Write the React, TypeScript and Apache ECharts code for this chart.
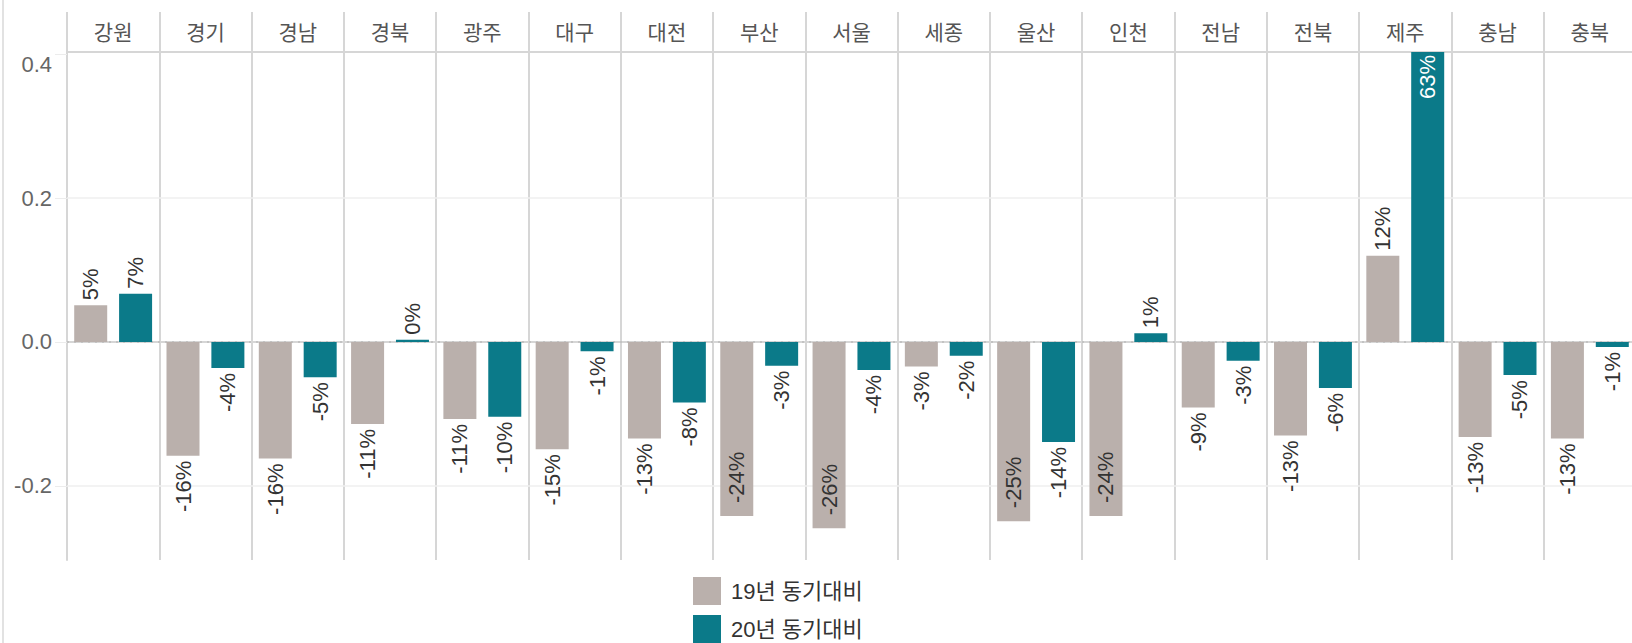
import React, { useEffect, useRef } from "react";
import * as echarts from "echarts";

const regions = ["강원", "경기", "경남", "경북", "광주", "대구", "대전", "부산", "서울", "세종", "울산", "인천", "전남", "전북", "제주", "충남", "충북"];
const seriesNames = ["19년 동기대비", "20년 동기대비"];
const yoy19 = [0.051, -0.158, -0.162, -0.114, -0.107, -0.149, -0.134, -0.242, -0.259, -0.034, -0.249, -0.242, -0.091, -0.13, 0.12, -0.132, -0.134];
const yoy20 = [0.067, -0.036, -0.049, 0.003, -0.104, -0.013, -0.084, -0.033, -0.039, -0.019, -0.139, 0.012, -0.026, -0.064, 0.63, -0.046, -0.007];
const yTicks = [-0.2, 0, 0.2, 0.4];
const gridLines = [-0.2, 0.2];
const yMin = -0.303;
const yMax = 0.403;

const FONT = "Arial, 'Liberation Sans', 'Noto Sans CJK KR', sans-serif";
const FRAME = "#d6d6d6";
const GRAY = "#bab0ac";
const TEAL = "#0b7a89";

function toItems(values: number[]) {
  return values.map((v) => {
    if (v > yMax) {
      return {
        value: v,
        label: { position: "insideTop", align: "right", verticalAlign: "middle", color: "#ffffff", distance: 3 },
      };
    }
    if (v < -0.2) {
      return {
        value: v,
        label: { position: "insideBottom", align: "left", verticalAlign: "middle", distance: 13 },
      };
    }
    return {
      value: v,
      label: {
        position: v >= 0 ? "top" : "bottom",
        align: v >= 0 ? "left" : "right",
        verticalAlign: "middle",
      },
    };
  });
}

export default function App() {
  const ref = useRef<HTMLDivElement>(null);
  useEffect(() => {
    if (!ref.current) return;
    const chart = echarts.init(ref.current, undefined, { renderer: "svg" });
    const labelBase = {
      show: true,
      rotate: 90,
      fontSize: 22,
      fontFamily: FONT,
      color: "#333333",
      distance: 5,
      formatter: (p: any) => Math.round(p.value * 100) + "%",
    };
    chart.setOption({
      animation: false,
      backgroundColor: "#ffffff",
      textStyle: { fontFamily: FONT },
      grid: { left: 67, right: 4, top: 52, bottom: 140 },
      legend: {
        orient: "vertical",
        left: 688,
        top: 572,
        height: 120,
        itemWidth: 28,
        itemHeight: 28,
        itemGap: 10,
        icon: "rect",
        data: seriesNames,
        textStyle: { fontSize: 22, color: "#333333", fontFamily: FONT, padding: [0, 0, 0, 5] },
      },
      graphic: [
        {
          type: "line",
          shape: { x1: 3, y1: 0, x2: 3, y2: 700 },
          style: { stroke: "#e2e2e2", lineWidth: 2 },
          silent: true,
        },
      ],
      xAxis: [
        {
          type: "category",
          data: regions,
          position: "bottom",
          axisLine: { show: true, lineStyle: { color: FRAME, width: 2 } },
          axisTick: { show: false },
          axisLabel: { show: false },
          splitLine: { show: true, lineStyle: { color: FRAME, width: 2 } },
        },
        {
          type: "category",
          data: regions,
          position: "top",
          axisLine: { show: true, lineStyle: { color: FRAME, width: 2 } },
          axisTick: { show: true, length: 40, lineStyle: { color: FRAME, width: 2 } },
          axisLabel: { fontSize: 21, color: "#555555", margin: 9, fontFamily: FONT },
          splitLine: { show: false },
        },
      ],
      yAxis: {
        type: "value",
        min: yMin,
        max: yMax,
        axisLine: { show: true, lineStyle: { color: FRAME, width: 2 } },
        axisTick: { show: true, customValues: yTicks, length: 12, lineStyle: { color: "#ececec", width: 1 } },
        axisLabel: {
          customValues: yTicks,
          fontSize: 22,
          color: "#666666",
          margin: 15,
          fontFamily: FONT,
          formatter: (v: number) => (v >= 0.39 ? "{t|" + v.toFixed(1) + "}" : "{n|" + v.toFixed(1) + "}"),
          rich: {
            t: { fontSize: 22, color: "#666666", fontFamily: FONT, padding: [20, 0, 0, 0] },
            n: { fontSize: 22, color: "#666666", fontFamily: FONT },
          },
        },
        splitLine: { show: false },
      },
      series: [
        {
          name: seriesNames[0],
          type: "bar",
          xAxisIndex: 0,
          data: toItems(yoy19),
          barWidth: 33,
          barGap: "36%",
          itemStyle: { color: GRAY },
          label: labelBase,
          markLine: {
            silent: true,
            symbol: "none",
            z: 1,
            label: { show: false },
            data: [
              ...gridLines.map((g) => ({ yAxis: g, lineStyle: { color: "#efefef", width: 1.5, type: "solid" } })),
              { yAxis: 0, lineStyle: { color: "#bdbdbd", width: 1.5, type: [2, 5] } },
            ],
          },
        },
        {
          name: seriesNames[1],
          type: "bar",
          xAxisIndex: 0,
          data: toItems(yoy20),
          barWidth: 33,
          barGap: "36%",
          itemStyle: { color: TEAL },
          label: labelBase,
        },
      ],
    });
    return () => chart.dispose();
  }, []);
  return (
    <div style={{ position: "fixed", left: 0, top: 0, width: 1632, height: 643, overflow: "hidden", background: "#fff" }}>
      <div ref={ref} style={{ width: 1640, height: 700 }} />
    </div>
  );
}
